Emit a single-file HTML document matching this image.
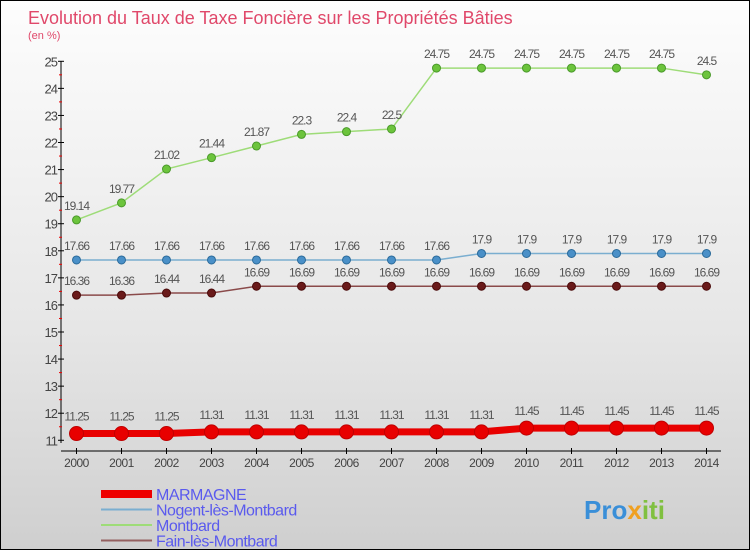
<!DOCTYPE html>
<html><head><meta charset="utf-8"><style>
body{margin:0}
#c{width:750px;height:550px;position:relative;overflow:hidden;box-sizing:border-box;border:1px solid #000;background:linear-gradient(#fdfdfd,#e6e6e6 60%,#cfcfcf);font-family:"Liberation Sans",sans-serif}
</style></head><body>
<div id="c">
<svg id="s" width="750" height="550" style="position:absolute;left:0;top:0">
<text x="27" y="23" font-size="18" fill="#e0486a">Evolution du Taux de Taxe Foncière sur les Propriétés Bâties</text>
<text x="27" y="38" font-size="11" fill="#e0486a">(en %)</text>
<g id="axes"></g><g id="series"></g><g id="legend"></g>
<text x="583" y="518" font-size="26" font-weight="bold" fill="#3a8fd8">Pro<tspan fill="#f0a020">x</tspan><tspan fill="#80c040">iti</tspan></text>
</svg>
</div>
<script>
const years=[2000,2001,2002,2003,2004,2005,2006,2007,2008,2009,2010,2011,2012,2013,2014];
const marmagne=[11.25,11.25,11.25,11.31,11.31,11.31,11.31,11.31,11.31,11.31,11.45,11.45,11.45,11.45,11.45];
const nogent=[17.66,17.66,17.66,17.66,17.66,17.66,17.66,17.66,17.66,17.9,17.9,17.9,17.9,17.9,17.9];
const montbard=[19.14,19.77,21.02,21.44,21.87,22.3,22.4,22.5,24.75,24.75,24.75,24.75,24.75,24.75,24.5];
const fain=[16.36,16.36,16.44,16.44,16.69,16.69,16.69,16.69,16.69,16.69,16.69,16.69,16.69,16.69,16.69];
const yTicks=[11,12,13,14,15,16,17,18,19,20,21,22,23,24,25];
const NS='http://www.w3.org/2000/svg';
const X=i=>75.5+i*45, Y=v=>60.3+(25-v)*27.07;
function mk(p,t,a){const e=document.createElementNS(NS,t);for(const k in a)e.setAttribute(k,a[k]);p.appendChild(e);return e;}
const ax=document.getElementById('axes');
let e=mk(ax,'line',{x1:60,y1:60,x2:60,y2:442,stroke:'#000'});

e=mk(ax,'line',{x1:60,y1:450,x2:720,y2:450,stroke:'#000'});

yTicks.forEach(v=>{mk(ax,'line',{x1:57,y1:Y(v),x2:63,y2:Y(v),stroke:'#000'});
 if(v<25)mk(ax,'line',{x1:58,y1:Y(v+0.5),x2:61,y2:Y(v+0.5),stroke:'#e00'});
 const t=mk(ax,'text',{x:56,y:Y(v)+5,'font-size':13,'text-anchor':'end',fill:'#444','letter-spacing':'-1'});t.textContent=v;
 });
years.forEach((y,i)=>{mk(ax,'line',{x1:X(i),y1:447,x2:X(i),y2:453,stroke:'#000'});
 const t=mk(ax,'text',{x:X(i),y:466,'font-size':12,'text-anchor':'middle',fill:'#444','letter-spacing':'-0.5'});t.textContent=y;
 });
const sg=document.getElementById('series');
function series(d,name,col,w,r,fill,lab){
 const g=mk(sg,'g',{});
 const l=mk(g,'polyline',{points:d.map((v,i)=>X(i)+','+Y(v)).join(' '),fill:'none',stroke:col,'stroke-width':w});
 
 d.forEach((v,i)=>{const c=mk(g,'circle',{cx:X(i),cy:Y(v),r:r,fill:fill,stroke:lab,'stroke-width':1});
  
  const t=mk(g,'text',{x:X(i),y:Y(v)-(r+6),'font-size':12,'text-anchor':'middle',fill:'#555','letter-spacing':'-1'});t.textContent=v;
  });
}
series(montbard,'montbard','#9edc78',1.5,4,'#6cc43c','#4a9a2a');
series(nogent,'nogent','#7aaed0',1.5,4,'#4a90c8','#2a6a9a');
series(fain,'fain','#8a4a4a',1.5,4,'#6a1a1a','#4a0a0a');
series(marmagne,'marmagne','#e80000',7,7,'#e80000','#c00000');
const lg=document.getElementById('legend');
[['MARMAGNE','#ee0000',8],['Nogent-lès-Montbard','#7aaed0',2],['Montbard','#9edc78',2],['Fain-lès-Montbard','#946060',2]].forEach((d,i)=>{
 const y=493+i*15.5;
 const l=mk(lg,'line',{x1:100,y1:y,x2:151,y2:y,stroke:d[1],'stroke-width':d[2]});
 
 const t=mk(lg,'text',{x:155,y:y+6,'font-size':16,fill:'#5a5aee','letter-spacing':'-0.5'});t.textContent=d[0];
 });
</script>
</body></html>
